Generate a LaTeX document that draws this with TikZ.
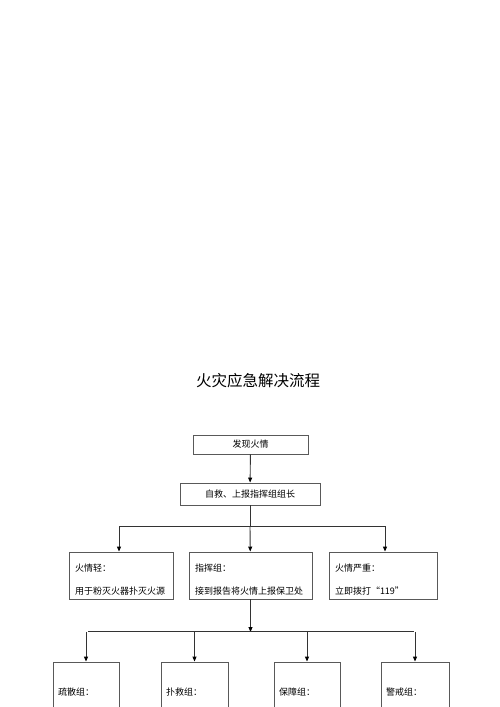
\documentclass[tikz,border=0pt]{standalone}
\usepackage{fontspec}
\newfontfamily\cjk{Noto Sans CJK SC}
\usepackage{tikz}
\usetikzlibrary{calc, arrows.meta, positioning}

\tikzset{
	box/.style={draw=black!65, line width=0.9pt, inner sep=0pt, font=\cjk\fontsize{9}{11}\selectfont},
	flow/.style={draw=black!80, line width=0.9pt},
	tip/.style={arrows={-Triangle[length=5pt,width=4pt,black,fill=black]}}
}

\begin{document}
\begin{tikzpicture}[x=1pt,y=-1pt]
	\useasboundingbox (0,0) rectangle (500,707);
	\node[font=\cjk\fontsize{15.5}{17}\selectfont] (title) at (258,381) {火灾应急解决流程};

	% top part
	\node[box, minimum width=115pt, minimum height=19pt] (found) at (250.5,444.5) {发现火情};
	\node[box, minimum width=140pt, minimum height=22pt] (boss) at (250,494) {自救、上报指挥组组长};
	\draw[flow, tip] (found) -- (boss);

	% three cases
	\node[box, minimum width=104pt, minimum height=47pt, text width=92pt, align=left] (light) at (121,575.5) {\rule{0pt}{16pt}火情轻：\\[12pt]用于粉灭火器扑灭火源};
	\node[box, minimum width=123pt, minimum height=47pt, text width=111pt, align=left] (cmd) at (250.5,575.5) {\rule{0pt}{16pt}指挥组：\\[12pt]接到报告将火情上报保卫处};
	\node[box, minimum width=108pt, minimum height=47pt, text width=96pt, align=left] (severe) at (383,575.5) {\rule{0pt}{16pt}火情严重：\\[12pt]立即拨打“119”};

	\coordinate (split1) at (boss.south |- 0,526);
	\draw[flow] (boss) -- (split1);
	\draw[flow, tip] (split1) -- (cmd);
	\draw[flow, tip] (split1) -| ($(light.north)+(-2,0)$);
	\draw[flow, tip] (split1) -| ($(severe.north)+(2,0)$);

	% groups
	\node[box, minimum width=66pt, minimum height=60pt, text width=56pt, align=left] (evac) at (86,692) {疏散组：};
	\node[box, minimum width=67pt, minimum height=60pt, text width=57pt, align=left] (rescue) at (194.5,692) {扑救组：};
	\node[box, minimum width=66pt, minimum height=60pt, text width=56pt, align=left] (support) at (307,692) {保障组：};
	\node[box, minimum width=68pt, minimum height=60pt, text width=58pt, align=left] (guard) at (415,692) {警戒组：};

	\coordinate (split2) at (cmd.south |- 0,632);
	\draw[flow, tip] (cmd) -- (split2);
	\draw[flow] ($(evac.north)+(2,-30)$) -- ($(guard.north)+(-1,-30)$);
	\foreach \g in {evac, rescue, support, guard}
		\draw[flow, tip] (\g.north |- split2) -- (\g.north);
\end{tikzpicture}
\end{document}
